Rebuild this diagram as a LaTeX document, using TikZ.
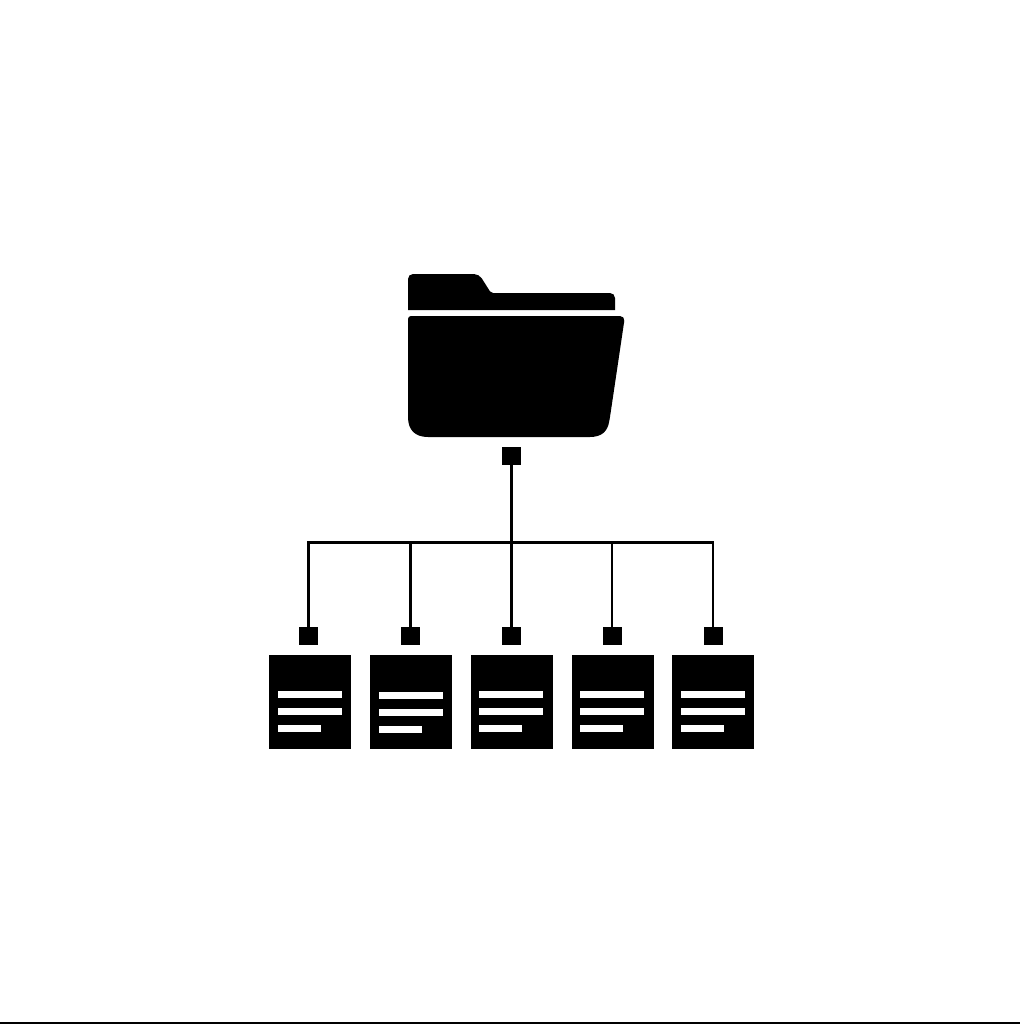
\documentclass[tikz,border=0pt]{standalone}
\usetikzlibrary{positioning}
\tikzset{
	port/.style = {shape=rectangle, fill=black, inner sep=0pt, minimum width=19pt, minimum height=18.5pt},
	docbox/.style = {shape=rectangle, fill=black, inner sep=0pt, minimum width=82pt, minimum height=94.5pt},
	textbar/.style = {shape=rectangle, fill=white, inner sep=0pt, minimum height=7pt},
	wire/.style = {draw=black, line width=2.8pt}
}
\begin{document}
\begin{tikzpicture}[x=1pt, y=-1pt]
	\useasboundingbox (0,0) rectangle (1020,1024);
	\fill[black] (0,1022) rectangle (1020,1024);

	% folder
	\fill[black] (408,310) [rounded corners=5pt] -- (408,274) -- (479,274) [rounded corners=2pt] -- (491,293)
		[rounded corners=5pt] -- (615,293) [sharp corners] -- (615,310) -- cycle;
	\fill[black] (408,380) [rounded corners=3pt] -- (408,316) [rounded corners=5pt] -- (625,316) -- (610,417) [sharp corners]
		.. controls (607.5,431) and (602,437) .. (590,437) -- (428,437) .. controls (415,437) and (408,430) .. (408,417) -- cycle;

	\node[port] (hub) at (511.5,456) {};
	\coordinate (bus) at (511.5,542.5);

	\foreach \n/\px/\dx/\bx/\by in {1/308.8/310.3/-0.1/35.7, 2/410.5/411.3/-0.5/36.7, 3/511.5/511.9/-0.7/35.7, 4/612/612.7/-0.5/35.7, 5/713/713.2/0/35.7}{
		\node[port] (port\n) at (\px,636) {};
		\node[docbox] (doc\n) at (\dx,702.2) {};
		\node[textbar, minimum width=64pt, below=\by pt of doc\n.north, xshift=\bx pt] (bartop\n) {};
		\node[textbar, minimum width=64pt, below=9.5pt of bartop\n] (barmid\n) {};
		\node[textbar, minimum width=43pt, below=10pt of barmid\n.south west, anchor=north west] (barlow\n) {};
		\coordinate (drop\n) at (port\n |- bus);
		\draw[wire] (drop\n) -- (port\n);
	}
	\draw[wire, line cap=rect] (drop1) -- (drop5);
	\draw[wire] (hub) -- (port3);
\end{tikzpicture}
\end{document}
